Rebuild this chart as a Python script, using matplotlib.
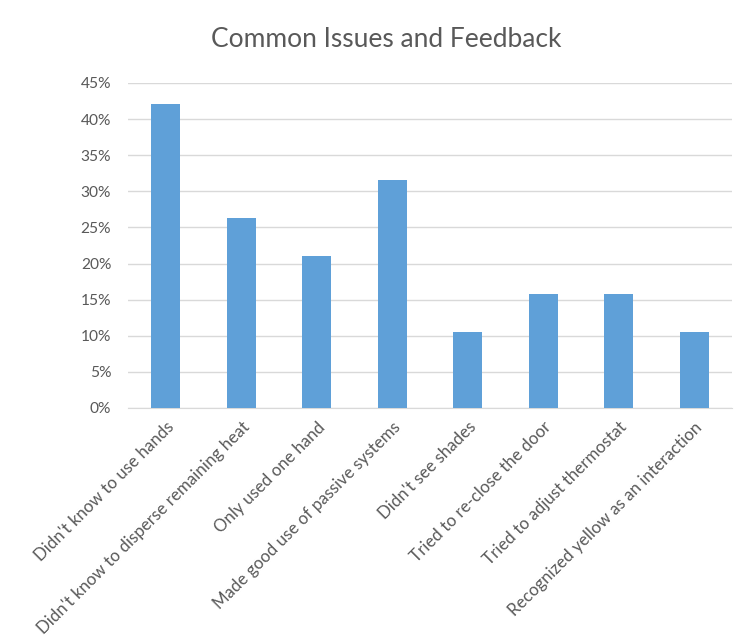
import matplotlib.pyplot as plt
from matplotlib.ticker import PercentFormatter
import numpy as np

plt.rcParams['font.family'] = ['Lato', 'DejaVu Sans']

issues = ["Didn't know to use hands",
          "Didn't know to disperse remaining heat",
          "Only used one hand",
          "Made good use of passive systems",
          "Didn't see shades",
          "Tried to re-close the door",
          "Tried to adjust thermostat",
          "Recognized yellow as an interaction"]
counts = [8, 5, 4, 6, 2, 3, 3, 2]
participants = 19
share = np.array(counts) / participants

grey = '#595959'
x = np.arange(len(issues))

fig = plt.figure(figsize=(7.35, 6.36), dpi=100)
ax = fig.add_axes([0.174, 0.3585, 0.822, 0.511])

ax.bar(x, share, width=0.385, color='#5fa0d8', zorder=3)

ax.set_xlim(-0.5, len(issues) - 0.5)
ax.set_ylim(0, 0.45)
ax.set_yticks(np.arange(0, 0.451, 0.05))
ax.yaxis.set_major_formatter(PercentFormatter(1.0, decimals=0))
ax.yaxis.grid(True, color='#d9d9d9', linewidth=1, zorder=0)

ax.set_xticks(x)
ax.set_xticklabels(issues, rotation=45, ha='right', rotation_mode='anchor')
ax.tick_params(axis='both', length=0, labelcolor=grey)
ax.tick_params(axis='y', pad=12, labelsize=11.2)
ax.tick_params(axis='x', pad=8, labelsize=12.2)

for side in ['left', 'right', 'top']:
    ax.spines[side].set_visible(False)
ax.spines['bottom'].set_color('#d9d9d9')

fig.suptitle('Common Issues and Feedback', x=0.525, y=0.957, fontsize=19, color=grey)

fig.savefig('out.png', dpi=100)
